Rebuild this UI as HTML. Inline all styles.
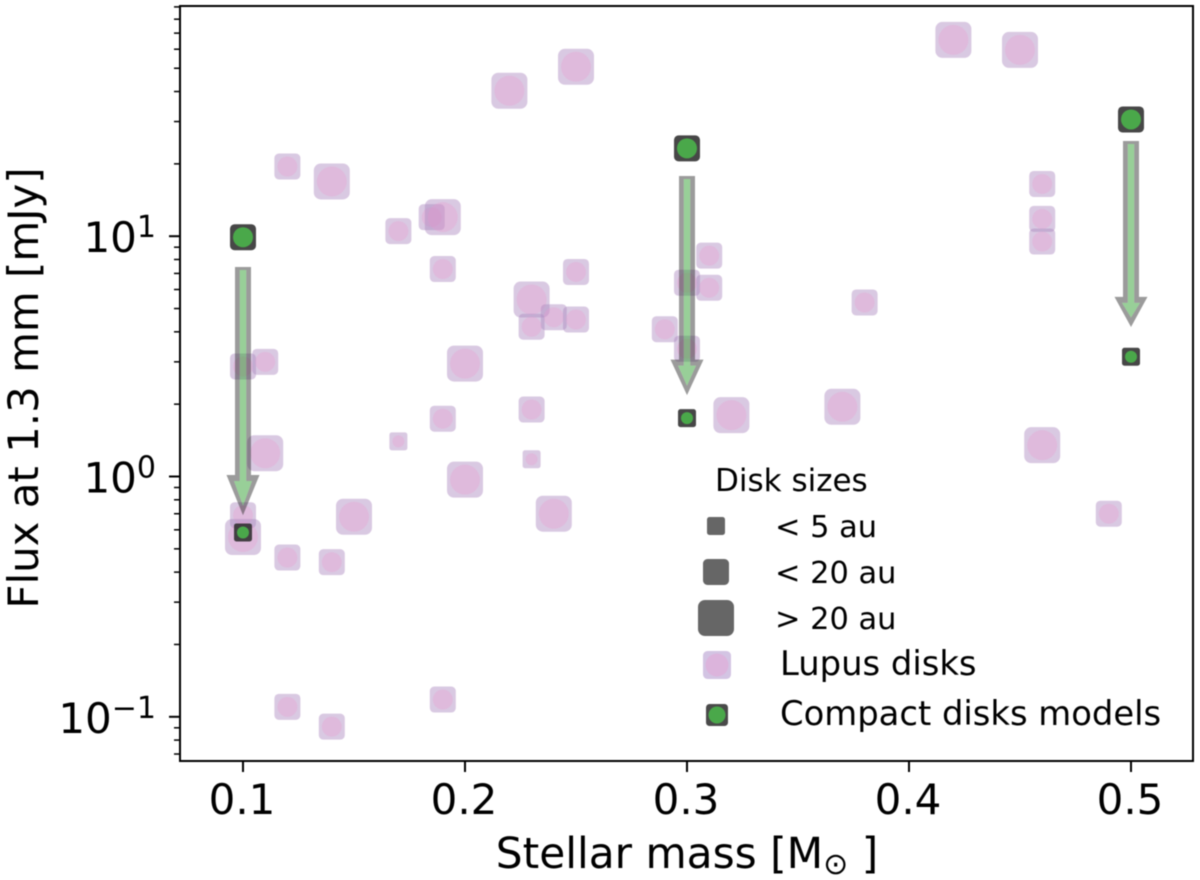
<!DOCTYPE html>
<html>
<head>
<meta charset="utf-8">
<title>Flux vs stellar mass</title>
<style>
html,body{margin:0;padding:0;background:#fff;}
svg{display:block;filter:blur(0.5px);}
text{font-family:"DejaVu Sans","Liberation Sans",sans-serif;fill:#000;}
</style>
</head>
<body>
<svg id="chart" xmlns="http://www.w3.org/2000/svg" width="1200" height="880" viewBox="0 0 1200 880">
  <g id="marks"></g>
  <g id="axes"></g>
  <text x="687" y="868" font-size="42.3" text-anchor="middle">Stellar mass [M<tspan font-size="30" dy="6">⊙</tspan><tspan dy="-6"> ]</tspan></text>
  <text transform="translate(38,388) rotate(-90)" font-size="41.9" text-anchor="middle">Flux at 1.3 mm [mJy]</text>
  <g id="legend">
    <text x="715" y="491" font-size="31">Disk sizes</text>
    <rect x="707" y="517" width="18" height="18" rx="2.5" fill="#666"/>
    <text x="775" y="537" font-size="30.4">&lt; 5 au</text>
    <rect x="703" y="559" width="26" height="26" rx="4.5" fill="#666"/>
    <text x="775" y="583" font-size="30.4">&lt; 20 au</text>
    <rect x="698" y="600" width="36" height="36" rx="7" fill="#666"/>
    <text x="775" y="629" font-size="30.4">&gt; 20 au</text>
    <rect x="703" y="651" width="28" height="28" rx="4.5" fill="#d3c4e3"/>
    <circle cx="717" cy="665" r="11.5" fill="#dcb4dc"/>
    <text x="780" y="675" font-size="33.8">Lupus disks</text>
    <rect x="706" y="704" width="22" height="22" rx="3.5" fill="#4a4a4a"/>
    <circle cx="717" cy="715" r="8.5" fill="#4aa84a"/>
    <text x="780" y="725" font-size="33.8">Compact disks models</text>
  </g>
</svg>
<script>
const lupusMass = [0.42,0.45,0.25,0.22,0.12,0.14,0.46,0.46,0.46,0.17,0.185,0.19,0.19,0.25,0.31,0.30,0.31,0.23,0.24,0.25,0.23,0.29,0.38,0.30,0.10,0.11,0.20,0.32,0.37,0.23,0.19,0.17,0.11,0.46,0.23,0.20,0.15,0.24,0.49,0.10,0.10,0.12,0.14,0.12,0.19,0.14];
const lupusFlux = [65.6,59.6,50.7,40.3,19.5,16.9,16.5,11.8,9.5,10.5,12.0,12.0,7.3,7.1,8.3,6.4,6.1,5.45,4.6,4.5,4.2,4.1,5.3,3.4,2.87,3.0,2.95,1.8,1.95,1.9,1.74,1.4,1.25,1.35,1.18,0.97,0.68,0.70,0.70,0.69,0.56,0.46,0.44,0.11,0.118,0.091];
const lupusSizeClass = ['L','L','L','L','M','L','M','M','M','M','M','L','M','M','M','M','M','L','M','M','M','M','M','M','M','M','L','L','L','M','M','S','L','L','S','L','L','L','M','M','L','M','M','M','M','M'];
const modelMass = [0.1,0.1,0.3,0.3,0.5,0.5];
const modelFlux = [9.9,0.585,23.2,1.75,30.6,3.15];
const modelSizeClass = ['M','S','M','S','M','S'];
const arrowMass = [0.1,0.3,0.5];
const arrowStartFlux = [7.44,17.8,24.9];
const arrowEndFlux = [0.69,2.18,4.19];
const xTickValues = [0.1,0.2,0.3,0.4,0.5];
const xTickLabels = ['0.1','0.2','0.3','0.4','0.5'];
const yTickExponents = [-1,0,1];
const yTickLabels = ['−1','0','1'];
const yMinorValues = [0.07,0.08,0.09,0.2,0.3,0.4,0.5,0.6,0.7,0.8,0.9,2,3,4,5,6,7,8,9,20,30,40,50,60,70,80,90];

const NS = 'http://www.w3.org/2000/svg';
const PLOT = {left:180, right:1193, top:6, bottom:761};
const xScale = v => 243 + (v - 0.1) * 2220;
const yScale = v => 476.5 - Math.log10(v) * 240.3;
const SIZE = {S:{o:18,i:12,r:2.5}, M:{o:26,i:20,r:4.5}, L:{o:36,i:30,r:7}};
const marks = document.getElementById('marks');
const axes = document.getElementById('axes');

function make(tag, attrs, parent){
  const el = document.createElementNS(NS, tag);
  for (const k in attrs) el.setAttribute(k, attrs[k]);
  parent.appendChild(el);
  return el;
}

function arrowPoints(cx, top, base, tip, sw, hw){
  return [[cx-sw,top],[cx+sw,top],[cx+sw,base],[cx+hw,base],[cx,tip],[cx-hw,base],[cx-sw,base]];
}
function toPath(pts){
  return 'M' + pts.map(q => q.join(' ')).join('L') + 'Z';
}

lupusMass.forEach((m, i) => {
  const s = SIZE[lupusSizeClass[i]];
  const cx = xScale(m), cy = yScale(lupusFlux[i]);
  const g = make('g', {}, marks);
  
  
  make('rect', {x:cx-s.o/2, y:cy-s.o/2, width:s.o, height:s.o, rx:s.r, fill:'rgba(172,137,192,0.46)'}, g);
  make('circle', {cx:cx, cy:cy, r:s.i/2, fill:'rgba(235,150,205,0.3)'}, g);
});

arrowMass.forEach((m, i) => {
  const cx = xScale(m), y0 = yScale(arrowStartFlux[i]), y1 = yScale(arrowEndFlux[i]);
  const headLen = (y1 - y0) * 0.162;
  const base = y1 - headLen;
  const outer = arrowPoints(cx, y0, base, y1, 8, 16.5);
  const inner = arrowPoints(cx, y0 + 3, base + 6, y1 - 9.5, 3.2, 9);
  const ring = make('path', {
    d: toPath(outer) + toPath(inner),
    'fill-rule':'evenodd',
    fill:'rgba(55,55,55,0.5)'
  }, marks);
  
  
  const core = make('path', {d: toPath(inner), fill:'rgba(50,160,50,0.5)'}, marks);
  
  
});

modelMass.forEach((m, i) => {
  const s = SIZE[modelSizeClass[i]];
  const cx = xScale(m), cy = yScale(modelFlux[i]);
  const g = make('g', {}, marks);
  
  
  make('rect', {x:cx-s.o/2, y:cy-s.o/2, width:s.o, height:s.o, rx:s.r, fill:'rgba(45,45,45,0.88)'}, g);
  make('circle', {cx:cx, cy:cy, r:s.i/2, fill:'#4aa84a'}, g);
});

const spine = make('rect', {x:PLOT.left, y:PLOT.top, width:PLOT.right-PLOT.left, height:PLOT.bottom-PLOT.top, fill:'none', stroke:'#000', 'stroke-width':2}, axes);



xTickValues.forEach((v, i) => {
  const x = xScale(v);
  const t = make('line', {x1:x, x2:x, y1:PLOT.bottom, y2:PLOT.bottom+11, stroke:'#000', 'stroke-width':2}, axes);
  
  
  const l = make('text', {x:x-1, y:814, 'font-size':42, 'text-anchor':'middle'}, axes);
  
  
  l.textContent = xTickLabels[i];
});

yTickExponents.forEach((e, i) => {
  const y = yScale(Math.pow(10, e));
  const t = make('line', {x1:PLOT.left-11, x2:PLOT.left, y1:y, y2:y, stroke:'#000', 'stroke-width':2}, axes);
  
  
  const l = make('text', {x:156, y:y+16, 'font-size':42, 'text-anchor':'end'}, axes);
  
  
  l.appendChild(document.createTextNode('10'));
  const sup = make('tspan', {'font-size':30, dy:-15}, l);
  sup.textContent = yTickLabels[i];
});

yMinorValues.forEach(v => {
  const y = yScale(v);
  const t = make('line', {x1:PLOT.left-6, x2:PLOT.left, y1:y, y2:y, stroke:'#000', 'stroke-width':1.5}, axes);
  
  
});
</script>
</body>
</html>
